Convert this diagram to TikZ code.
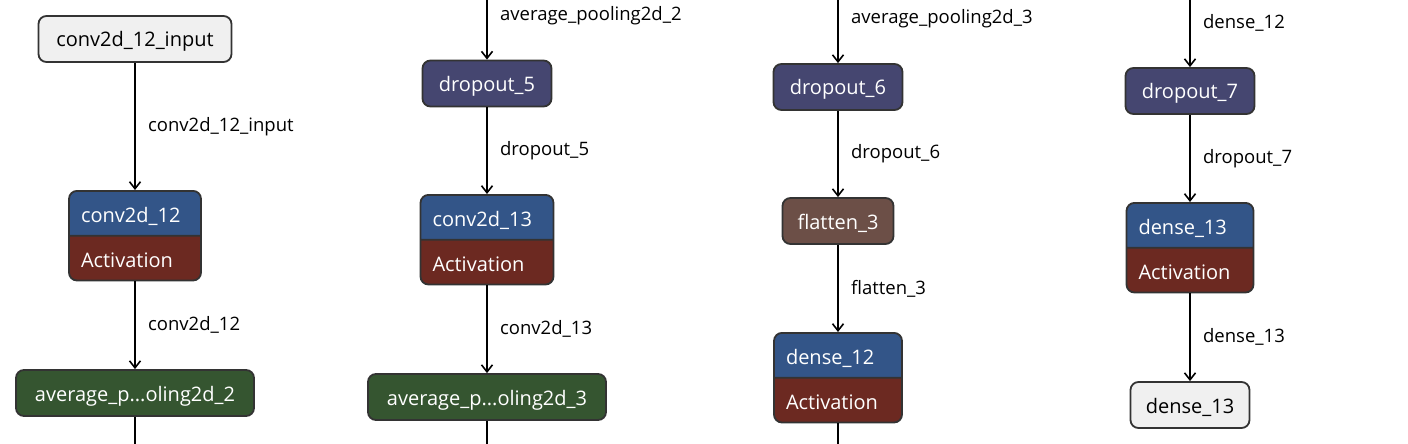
\documentclass[tikz,border=0pt]{standalone}
\usepackage{fontspec}
\setmainfont{Open Sans}
\usepackage{tikz}
\usetikzlibrary{shapes.multipart,arrows.meta}
\definecolor{lyrgray}{HTML}{F0F0F0}
\definecolor{lyrline}{HTML}{333333}
\definecolor{lyrblue}{HTML}{335588}
\definecolor{lyrred}{HTML}{6C2921}
\definecolor{lyrgreen}{HTML}{355530}
\definecolor{lyrpurple}{HTML}{454670}
\definecolor{lyrbrown}{HTML}{6C4F47}
\hyphenpenalty=10000 \exhyphenpenalty=10000
\newcommand{\tx}[1]{\rule[-15pt]{0pt}{46pt}#1}
\newcommand{\tp}[1]{\rule[-12pt]{0pt}{43pt}#1}

\begin{document}
\begin{tikzpicture}[x=1pt,y=-1pt,lyr/.style n args={3}{draw=lyrline,line width=1.8pt,fill=#1,text=#2,text width=#3,align=center,rounded corners=8pt,inner xsep=12pt,inner ysep=0pt,font=\fontsize{20}{24}\selectfont},act/.style={lyr={none}{white}{#1},align=left,rectangle split,rectangle split parts=2,rectangle split part fill={lyrblue,lyrred}},lnk/.style={line width=1.6pt,-{Straight Barb[length=7pt,width=11pt]}},lbl/.style={right=9pt,font=\fontsize{18.5}{22}\selectfont}]
\useasboundingbox (0,0) rectangle (1408,444);
\clip (0,0) rectangle (1408,444);
% first column
\node[lyr={lyrgray}{black}{169pt}] (in) at (135,39) {\tx{conv2d\_12\_input}};
\node[act=108pt,anchor=north] (c12) at (135,190) {\tp{conv2d\_12}\nodepart{two}\tp{Activation}};
\node[lyr={lyrgreen}{white}{214pt}] (ap2) at (135,393) {\tx{average\_p...oling2d\_2}};
% second column
\node[lyr={lyrpurple}{white}{105pt}] (d5) at (487,83.5) {\tx{dropout\_5}};
\node[act=109pt,anchor=north] (c13) at (487,194) {\tp{conv2d\_13}\nodepart{two}\tp{Activation}};
\node[lyr={lyrgreen}{white}{214pt}] (ap3) at (487,397) {\tx{average\_p...oling2d\_3}};
% third column
\node[lyr={lyrpurple}{white}{105pt}] (d6) at (838,87) {\tx{dropout\_6}};
\node[lyr={lyrbrown}{white}{87pt}] (f3) at (838,221) {\tx{flatten\_3}};
\node[act=104pt,anchor=north] (de12) at (838,332) {\tp{dense\_12}\nodepart{two}\tp{Activation}};
% fourth column
\node[lyr={lyrpurple}{white}{105pt}] (d7) at (1190,91) {\tx{dropout\_7}};
\node[act=103pt,anchor=north] (de13) at (1190,202) {\tp{dense\_13}\nodepart{two}\tp{Activation}};
\node[lyr={lyrgray}{black}{95pt}] (out) at (1190,405) {\tx{dense\_13}};
% column breaks
\coordinate (b1) at (135,520);
\coordinate (b2) at (487,520);
\coordinate (b3) at (838,520);
\coordinate (t2) at (487,-28);
\coordinate (t3) at (838,-25);
\coordinate (t4) at (1190,-21);
\draw[line width=1.6pt] (ap2) -- (b1);
\draw[line width=1.6pt] (ap3) -- (b2);
\draw[line width=1.6pt] (de12) -- (b3);
\foreach \a/\b/\1 in %
{in/c12/conv2d\_12\_input,c12/ap2/conv2d\_12,t2/d5/average\_pooling2d\_2,d5/c13/dropout\_5,c13/ap3/conv2d\_13,t3/d6/average\_pooling2d\_3,d6/f3/dropout\_6,f3/de12/flatten\_3,t4/d7/dense\_12,d7/de13/dropout\_7,de13/out/dense\_13} {
   \draw[lnk] (\a) -- node[lbl]{\1} (\b);
}
\end{tikzpicture}
\end{document}
